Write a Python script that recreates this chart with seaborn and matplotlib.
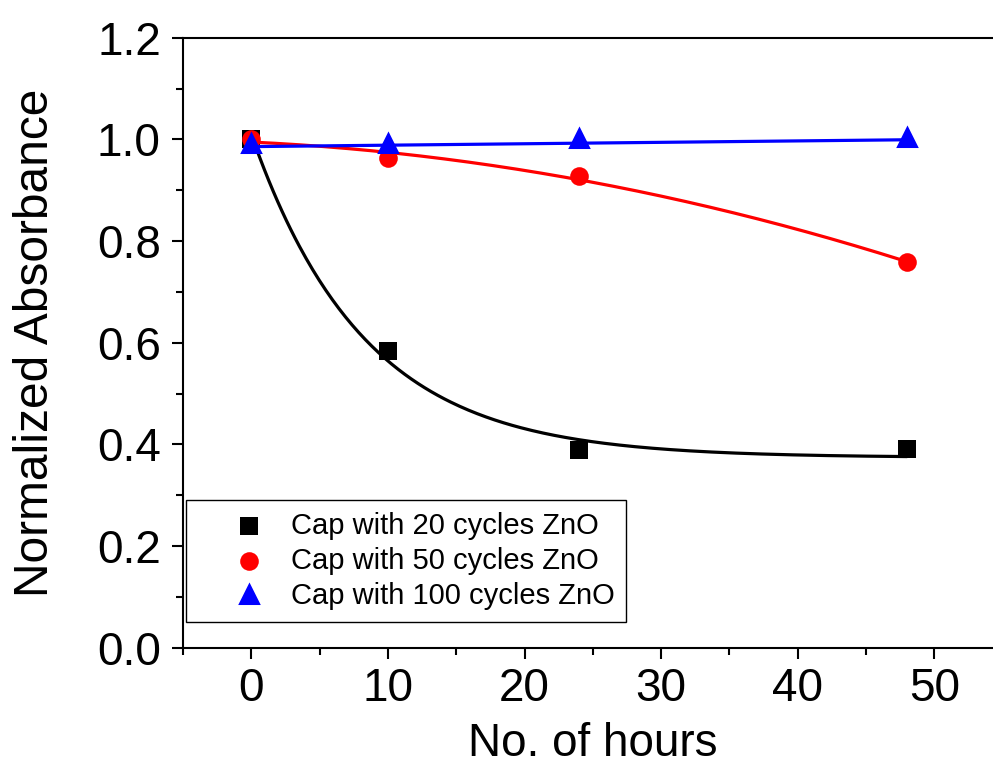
import numpy as np
import pandas as pd
import matplotlib
matplotlib.use("Agg")
import matplotlib.pyplot as plt
from matplotlib.ticker import AutoMinorLocator
from matplotlib.path import Path
import seaborn as sns

# ---- data ----
hours = [0, 10, 24, 48]
abs_20 = [1.000, 0.584, 0.388, 0.390]
abs_50 = [1.000, 0.963, 0.928, 0.758]
abs_100 = [0.986, 0.986, 0.996, 0.998]
labels = ["Cap with 20 cycles ZnO", "Cap with 50 cycles ZnO", "Cap with 100 cycles ZnO"]
colors = ["black", "#ff0000", "#0000ff"]
x_ticks = [0, 10, 20, 30, 40, 50]
y_ticks = [0.0, 0.2, 0.4, 0.6, 0.8, 1.0, 1.2]

sns.set_style("ticks")
plt.rcParams["font.family"] = ["Liberation Sans", "DejaVu Sans"]
plt.rcParams["text.color"] = "black"
plt.rcParams["axes.labelcolor"] = "black"
plt.rcParams["xtick.color"] = "black"
plt.rcParams["ytick.color"] = "black"

# triangle marker centred on its centroid (as in the reference)
tri = Path([(0, 4 / 3), (-1, -2 / 3), (1, -2 / 3), (0, 4 / 3)],
           [Path.MOVETO, Path.LINETO, Path.LINETO, Path.CLOSEPOLY])
markers = ["s", "o", tri]
sizes = [165, 180, 470]


def exp_fit(x, y, taus, rel=False):
    """least-squares fit of y = c0 + c1*exp(-x/t), grid search over t"""
    x = np.asarray(x, float)
    y = np.asarray(y, float)
    w = 1 / y if rel else np.ones_like(y)
    best = None
    for t in taus:
        B = np.column_stack([np.ones_like(x), np.exp(-x / t)])
        coef = np.linalg.lstsq(B * w[:, None], y * w, rcond=None)[0]
        err = np.sum(((B @ coef - y) * w) ** 2)
        if best is None or err < best[0]:
            best = (err, t, coef)
    _, t, coef = best
    return lambda xx: coef[0] + coef[1] * np.exp(-np.asarray(xx) / t)


xs = np.linspace(min(hours), max(hours), 300)
fit20 = exp_fit(hours, abs_20, np.linspace(1, 60, 1200), rel=True)
p50 = np.polyfit(hours, abs_50, 2)
p100 = np.polyfit(hours, abs_100, 1)

fits = [fit20(xs), np.polyval(p50, xs), np.polyval(p100, xs)]
series = [abs_20, abs_50, abs_100]

fig = plt.figure(figsize=(9.93, 7.66), dpi=100)
ax = fig.add_axes([183 / 993, 1 - 647.7 / 766, (1002.6 - 183) / 993, (647.7 - 37.7) / 766])

for i in range(3):
    fdf = pd.DataFrame({"x": xs, "y": fits[i]})
    sns.lineplot(data=fdf, x="x", y="y", ax=ax, color=colors[i], lw=2.3,
                 legend=False, zorder=2 + 2 * i)
    sdf = pd.DataFrame({"x": hours, "y": series[i]})
    sns.scatterplot(data=sdf, x="x", y="y", ax=ax, color=colors[i], marker=markers[i],
                    s=sizes[i], edgecolor=colors[i], linewidth=0, label=labels[i],
                    zorder=3 + 2 * i)

ax.set_xlim(-5, 55)
ax.set_ylim(0, 1.2)
ax.set_xticks(x_ticks)
ax.set_yticks(y_ticks)
ax.set_yticklabels([f"{v:.1f}" for v in y_ticks])
ax.xaxis.set_minor_locator(AutoMinorLocator(2))
ax.yaxis.set_minor_locator(AutoMinorLocator(2))
ax.tick_params(axis="both", which="major", direction="out", length=8, width=1.5,
               labelsize=33, color="black", labelcolor="black")
ax.tick_params(axis="both", which="minor", direction="out", length=5, width=1.5,
               color="black")
ax.tick_params(axis="x", which="major", pad=6)
ax.tick_params(axis="y", which="major", pad=8)
for sp in ax.spines.values():
    sp.set_linewidth(1.5)
    sp.set_color("black")
    sp.set_visible(True)

ax.set_xlabel("No. of hours", fontsize=33, labelpad=8, color="black")
ax.set_ylabel("Normalized Absorbance", fontsize=34.5, labelpad=28, color="black")

leg = ax.legend(loc="lower left", bbox_to_anchor=(186 / 993, 1 - 622 / 766),
                bbox_transform=fig.transFigure, fontsize=21, frameon=True,
                fancybox=False, framealpha=1, edgecolor="black",
                handlelength=3.5, handletextpad=-0.3, borderpad=0.4,
                labelspacing=0.25, borderaxespad=0, scatterpoints=1)
leg.get_frame().set_linewidth(1.0)
for t in leg.get_texts():
    t.set_color("black")

fig.savefig("out.png", dpi=100)
